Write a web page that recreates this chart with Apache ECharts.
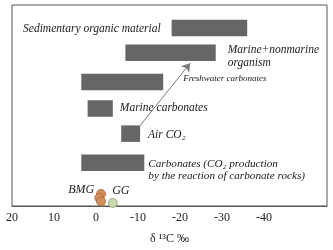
<!DOCTYPE html>
<html>
<head>
<meta charset="utf-8">
<script src="https://cdn.jsdelivr.net/npm/echarts@6/dist/echarts.min.js"></script>
<style>
    html, body { margin: 0; padding: 0; background: #fff; }
    #main { width: 333px; height: 250px; }
</style>
</head>
<body>
<div id="main"></div>
<script type="text/javascript">
    // 数据：δ13C 范围（左端、右端）及所在行
    var sourceNames = ['Sedimentary organic material', 'Marine+nonmarine\norganism', 'Freshwater carbonates',
        'Marine carbonates', 'Air CO\u2082', 'Carbonates (CO\u2082 production\nby the reaction of carbonate rocks)'];
    var rangeLow = [-18, -7, 3.5, 2, -6, 3.5];
    var rangeHigh = [-36, -28.5, -16, -4, -10.5, -11.5];
    var rowPos = [17.7, 15.25, 12.35, 9.7, 7.2, 4.3];

    var bmgX = [-1.2, -0.8, -1.2];
    var bmgY = [1.2, 0.8, 0.45];
    var ggX = [-4.0];
    var ggY = [0.3];

    var arrowFrom = [-10.2, 7.85];
    var arrowTo = [-22.4, 14.2];

    var xTickLabels = ['20', '10', '0', '-10', '-20', '-30', '-40'];

    // 标签摆放（样式，不是数据）
    var labelLayout = [
        {side: 'left', gap: 11, dy: 1, size: 11.5},
        {side: 'right', gap: 12, dy: 3.5, size: 11.5},
        {side: 'right', gap: 20, dy: -3, size: 9},
        {side: 'right', gap: 7, dy: -1, size: 11.5},
        {side: 'right', gap: 8, dy: 1, size: 11.5},
        {side: 'right', gap: 4, dy: 7.5, size: 11.2}
    ];
    var serif = '"Liberation Serif", "DejaVu Serif", serif';

    var barData = [];
    for (var i = 0; i < sourceNames.length; i++) {
        barData.push([rangeLow[i], rangeHigh[i], rowPos[i]]);
    }
    var bmgData = bmgX.map(function (x, k) { return [x, bmgY[k]]; });
    var ggData = ggX.map(function (x, k) { return [x, ggY[k]]; });

    var chart = echarts.init(document.getElementById('main'));
    chart.setOption({
        animation: false,
        grid: {
            left: 12, right: 6, top: 5, bottom: 39,
            show: true, borderColor: '#555', borderWidth: 1
        },
        xAxis: {
            type: 'value',
            inverse: true,
            min: -55, max: 20, interval: 5,
            name: 'δ ¹³C ‰',
            nameLocation: 'middle',
            nameGap: 27,
            nameTextStyle: {fontFamily: serif, fontSize: 12, color: '#222'},
            axisLine: {show: true, lineStyle: {color: '#555'}},
            axisTick: {show: false},
            splitLine: {show: false},
            axisLabel: {
                margin: 6,
                fontFamily: serif, fontSize: 12, color: '#222',
                formatter: function (v) {
                    var s = String(v);
                    return xTickLabels.indexOf(s) >= 0 ? s : '';
                }
            }
        },
        yAxis: {
            type: 'value', min: 0, max: 20, show: false
        },
        series: [{
            type: 'custom',
            data: barData,
            encode: {x: [0, 1], y: 2},
            clip: false,
            renderItem: function (params, api) {
                var a = api.coord([api.value(0), api.value(2)]);
                var b = api.coord([api.value(1), api.value(2)]);
                var h = 16.5;
                var x0 = Math.min(a[0], b[0]), x1 = Math.max(a[0], b[0]);
                var lay = labelLayout[params.dataIndex];
                var tx = lay.side === 'left' ? x0 - lay.gap : x1 + lay.gap;
                return {
                    type: 'group',
                    children: [{
                        type: 'rect',
                        shape: {x: x0, y: a[1] - h / 2, width: x1 - x0, height: h},
                        style: {fill: '#666666'}
                    }, {
                        type: 'text',
                        x: tx,
                        y: a[1] + lay.dy,
                        style: {
                            text: sourceNames[params.dataIndex],
                            font: 'italic ' + lay.size + 'px ' + serif,
                            fill: '#1a1a1a',
                            align: lay.side === 'left' ? 'right' : 'left',
                            verticalAlign: 'middle',
                            lineHeight: 12.5
                        }
                    }]
                };
            },
            markLine: {
                silent: true,
                symbol: ['none', 'arrow'],
                symbolSize: 8,
                label: {show: false},
                lineStyle: {color: '#777', width: 1, type: 'solid'},
                data: [[{coord: arrowFrom}, {coord: arrowTo}]]
            }
        }, {
            type: 'scatter',
            data: bmgData,
            symbolSize: 9,
            clip: false,
            itemStyle: {color: '#d4905c', borderColor: '#a5653c', borderWidth: 0.8, opacity: 1},
            label: {
                show: true,
                position: 'left',
                distance: 2,
                offset: [0, -4],
                fontFamily: serif, fontStyle: 'italic', fontSize: 12, color: '#1a1a1a',
                formatter: function (p) { return p.dataIndex === 0 ? 'BMG' : ''; }
            }
        }, {
            type: 'scatter',
            data: ggData,
            symbolSize: 9,
            clip: false,
            itemStyle: {color: '#c9d9aa', borderColor: '#8c9c80', borderWidth: 0.8, opacity: 1},
            label: {
                show: true,
                position: 'top',
                distance: 1,
                offset: [8, 0],
                fontFamily: serif, fontStyle: 'italic', fontSize: 12, color: '#1a1a1a',
                formatter: 'GG'
            }
        }]
    });
</script>
</body>
</html>
